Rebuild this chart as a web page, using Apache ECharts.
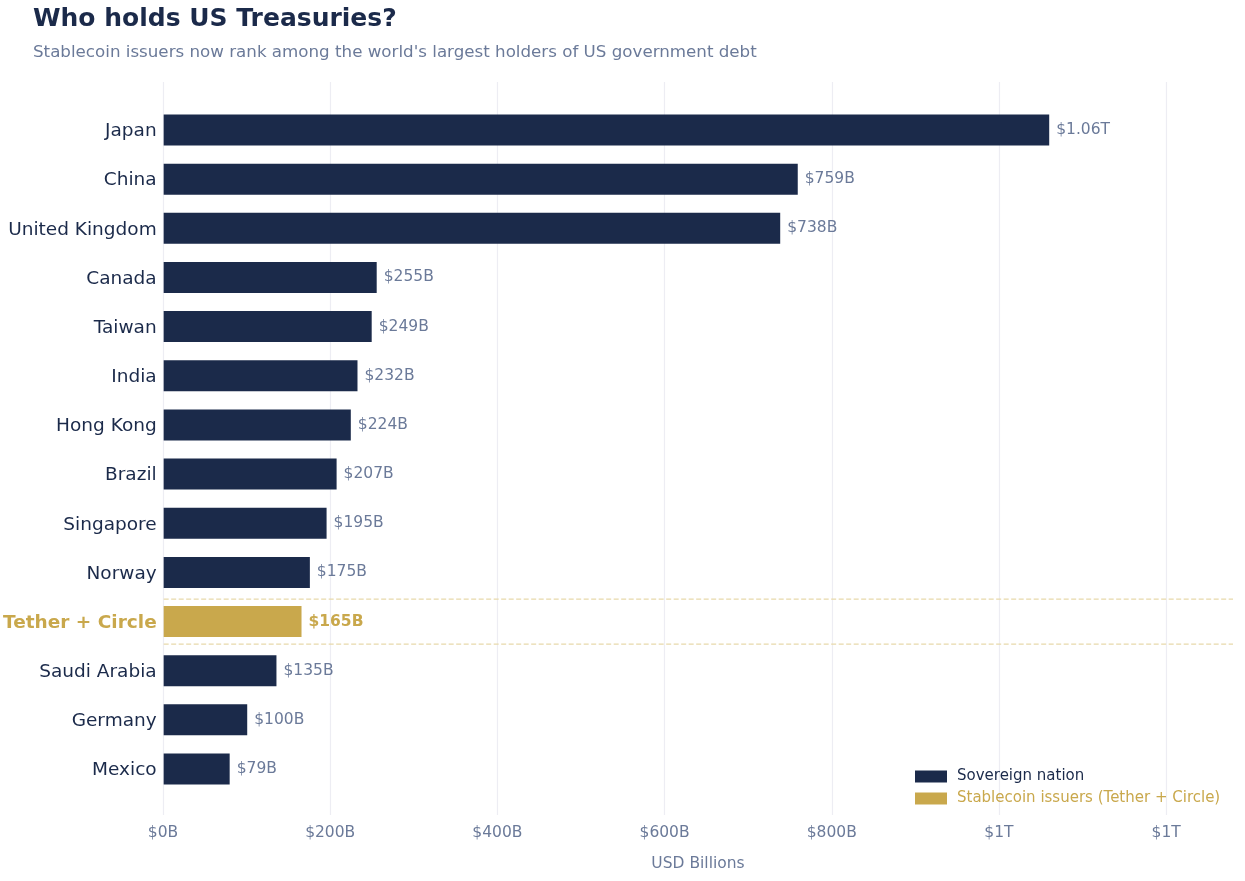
<!DOCTYPE html>
<html>
<head>
<meta charset="utf-8">
<script src="https://cdn.jsdelivr.net/npm/echarts@6/dist/echarts.min.js"></script>
<style>
  html, body { margin: 0; padding: 0; background: #fff; }
  #chart { width: 1245px; height: 881px; }
</style>
</head>
<body>
<div id="chart"></div>
<script>
// holders, top to bottom
var holders = ['Japan', 'China', 'United Kingdom', 'Canada', 'Taiwan', 'India', 'Hong Kong',
  'Brazil', 'Singapore', 'Norway', 'Tether + Circle', 'Saudi Arabia', 'Germany', 'Mexico'];
var holdings = [1060, 759, 738, 255, 249, 232, 224, 207, 195, 175, 165, 135, 100, 79];
var stablecoinName = 'Tether + Circle';
var xTicks = [0, 200, 400, 600, 800, 1000, 1200];

var NAVY = '#1b2a4a', GOLD = '#c9a84c', GREY = '#6b7a99';

var sovereign = [], stable = [];
for (var i = 0; i < holders.length; i++) {
  if (holders[i] == stablecoinName) { sovereign.push(null); stable.push(holdings[i]); }
  else { sovereign.push(holdings[i]); stable.push(null); }
}

function money(v) {
  if (v >= 1000) return '$' + (v / 1000).toFixed(2) + 'T';
  return '$' + v + 'B';
}
function tickMoney(v) {
  if (v >= 1000) return '$' + Math.round(v / 1000) + 'T';
  return '$' + v + 'B';
}

var xMax = 1280;

var myChart = echarts.init(document.getElementById('chart'));
var option = {
  backgroundColor: '#fff',
  animation: false,
  textStyle: { fontFamily: 'DejaVu Sans' },
  title: {
    text: 'Who holds US Treasuries?',
    subtext: "Stablecoin issuers now rank among the world's largest holders of US government debt",
    left: 28, top: 2,
    itemGap: 12,
    textStyle: { fontSize: 25, fontWeight: 'bold', color: NAVY },
    subtextStyle: { fontSize: 16.7, color: GREY }
  },
  legend: {
    orient: 'vertical',
    left: 910, top: 764,
    itemWidth: 32, itemHeight: 12, itemGap: 7,
    icon: 'rect',
    textStyle: { fontSize: 15, padding: [0, 0, 0, 5] },
    data: [
      { name: 'Sovereign nation', textStyle: { color: NAVY } },
      { name: 'Stablecoin issuers (Tether + Circle)', textStyle: { color: GOLD } }
    ]
  },
  grid: [
    { left: 163, right: 12, top: 82, bottom: 66 },
    { left: 163, right: 12, top: 105.4, bottom: 87.4 }
  ],
  xAxis: [
    {
      gridIndex: 0, type: 'value', min: 0, max: xMax, interval: xTicks[1] - xTicks[0],
      name: 'USD Billions', nameLocation: 'middle', nameGap: 41,
      nameTextStyle: { fontSize: 15.5, color: GREY },
      axisLine: { show: false }, axisTick: { show: false },
      axisLabel: { fontSize: 15.5, color: GREY, margin: 10, showMaxLabel: false, formatter: tickMoney },
      splitLine: { showMaxLine: false, lineStyle: { color: '#ededf3', width: 1.2 } }
    },
    {
      gridIndex: 1, type: 'value', min: 0, max: xMax, show: false
    }
  ],
  yAxis: [
    { gridIndex: 0, type: 'value', min: 0, max: 1, show: false },
    {
      gridIndex: 1, type: 'category', data: holders, inverse: true,
      axisLine: { show: false }, axisTick: { show: false },
      axisLabel: {
        margin: 7,
        formatter: function (v) { return v == stablecoinName ? '{hl|' + v + '}' : '{n|' + v + '}'; },
        rich: {
          n: { fontSize: 18.5, color: NAVY, fontFamily: 'DejaVu Sans', padding: [3, 0, 0, 0] },
          hl: { fontSize: 18.5, color: GOLD, fontWeight: 'bold', fontFamily: 'DejaVu Sans', padding: [3, 0, 0, 0] }
        }
      }
    }
  ],
  series: [
    {
      name: 'Sovereign nation', type: 'bar', xAxisIndex: 1, yAxisIndex: 1,
      data: sovereign, barWidth: 31, barGap: '-100%',
      itemStyle: { color: NAVY },
      label: {
        show: true, position: 'right', distance: 7, fontSize: 15.5, color: GREY,
        padding: [2, 0, 0, 0],
        formatter: function (p) { return money(p.value); }
      }
    },
    {
      name: 'Stablecoin issuers (Tether + Circle)', type: 'bar', xAxisIndex: 1, yAxisIndex: 1,
      data: stable, barWidth: 31, barGap: '-100%',
      itemStyle: { color: GOLD },
      label: {
        show: true, position: 'right', distance: 7, fontSize: 15.5, color: GOLD, fontWeight: 'bold',
        padding: [2, 0, 0, 0],
        formatter: function (p) { return money(p.value); }
      }
    },
    {
      // dashed separators around the stablecoin row
      type: 'custom', xAxisIndex: 1, yAxisIndex: 1, silent: true, z: 1,
      data: [[0, stablecoinName]],
      renderItem: function (params, api) {
        var c = api.coord([0, api.value(1)]);
        var band = api.size([0, 1])[1];
        var x0 = params.coordSys.x, x1 = params.coordSys.x + params.coordSys.width;
        var off = band * 0.458;
        var style = { stroke: '#e8d9ab', lineWidth: 1.2, lineDash: [5, 2.5] };
        return {
          type: 'group',
          children: [
            { type: 'line', shape: { x1: x0, y1: c[1] - off, x2: x1, y2: c[1] - off }, style: style },
            { type: 'line', shape: { x1: x0, y1: c[1] + off, x2: x1, y2: c[1] + off }, style: style }
          ]
        };
      }
    }
  ]
};
myChart.setOption(option);
</script>
</body>
</html>
